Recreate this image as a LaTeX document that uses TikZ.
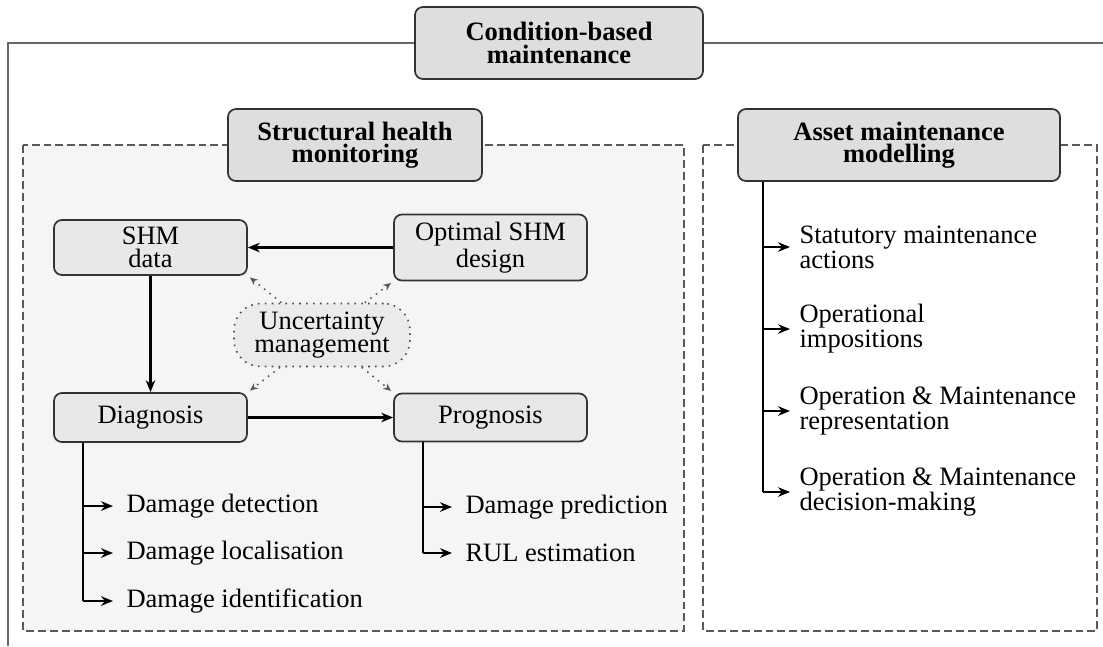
\documentclass[tikz,border=0pt]{standalone}
\usepackage{fontspec}
\setmainfont{Liberation Serif}
\usetikzlibrary{arrows.meta,calc}
\def\u{0.3774pt}
\begin{document}
\begin{tikzpicture}[x=0.3774pt,y=-0.3774pt,
  box/.style={draw=black!80, rounded corners=3pt, line width=0.65pt, align=center, inner sep=0pt},
  titlebox/.style={box, fill=black!13, font=\bfseries\fontsize{10}{8.4}\selectfont, minimum height=72*\u},
  innerbox/.style={box, fill=black!9, font=\fontsize{10}{8.8}\selectfont, minimum width=193*\u},
  uncbox/.style={draw=black!70, dotted, line width=0.6pt, rounded corners=10pt, fill=black!8, align=center, inner sep=0pt, font=\fontsize{10}{9}\selectfont},
  panel/.style={draw=black!65, dash pattern=on 3pt off 1.5pt, line width=0.5pt},
  frameline/.style={draw=black!60, line width=0.6pt},
  arr/.style={-{Stealth[length=4.5pt,width=3.6pt]}, line width=0.85pt},
  darr/.style={-{Stealth[length=3pt,width=2.6pt]}, dotted, draw=black!65, line width=0.6pt, shorten >=1pt},
  trunk/.style={line width=0.85pt},
  itemL/.style={anchor=west, inner xsep=13*\u, inner ysep=0pt, align=left, font=\fontsize{10}{9.4}\selectfont},
  itemR/.style={anchor=west, inner xsep=9*\u, inner ysep=0pt, align=left, font=\fontsize{10}{9.4}\selectfont},
]
\useasboundingbox (0,0) rectangle (1103,646);
% outer frame
\draw[frameline] (1103,43) -- (8,43) -- (8,646);
\node[titlebox, minimum width=288*\u] (cbm) at (559,43) {Condition-based\\maintenance};
% panels
\draw[panel, fill=black!4] (23,145) rectangle (684,631);
\draw[panel] (703,145) rectangle (1097,631);
\node[titlebox, minimum width=254*\u] (shm) at (355,145) {Structural health\\monitoring};
\node[titlebox, minimum width=322*\u] (amm) at (899,145) {Asset maintenance\\modelling};
% SHM nodes
\node[innerbox, minimum height=55*\u] (data) at (150.5,247.5) {SHM\\data};
\node[innerbox, minimum height=66*\u] (opt) at (490.5,247.5) {Optimal SHM\\design};
\node[innerbox, minimum height=49*\u] (diag) at (150.5,417.5) {Diagnosis};
\node[innerbox, minimum height=48*\u] (prog) at (490.5,417.5) {Prognosis};
\node[uncbox, minimum width=176*\u, minimum height=63*\u] (unc) at (322,335) {Uncertainty\\management};
\draw[arr] (opt) -- (data);
\draw[arr] (data) -- (diag);
\draw[arr] (diag) -- (prog);
\draw[darr] (unc) -- (data.south east);
\draw[darr] (unc) -- (opt.south west);
\draw[darr] (unc) -- (diag.north east);
\draw[darr] (unc) -- (prog.north west);
% Diagnosis branches
\coordinate (dt) at (83,0);
\node[itemL] (d1) at (113,506) {Damage detection};
\node[itemL] (d2) at (113,553) {Damage localisation};
\node[itemL] (d3) at (113,601) {Damage identification};
\draw[trunk] (dt |- diag.south) -- (dt |- d3.west);
\draw[arr] (dt |- d1.west) -- (d1.west);
\draw[arr] (dt |- d2.west) -- (d2.west);
\draw[arr] (dt |- d3.west) -- (d3.west);
% Prognosis branches
\coordinate (pt) at (423,0);
\node[itemL] (p1) at (452,507) {Damage prediction};
\node[itemL] (p2) at (452,553) {RUL estimation};
\draw[trunk] (pt |- prog.south) -- (pt |- p2.west);
\draw[arr] (pt |- p1.west) -- (p1.west);
\draw[arr] (pt |- p2.west) -- (p2.west);
% Asset maintenance branches
\coordinate (rt) at (763,0);
\node[itemR] (a1) at (790,247) {Statutory maintenance\\actions};
\node[itemR] (a2) at (790,329) {Operational\\impositions};
\node[itemR] (a3) at (790,411) {Operation \& Maintenance\\representation};
\node[itemR] (a4) at (790,492) {Operation \& Maintenance\\decision-making};
\draw[trunk] (rt |- amm.south) -- (rt |- a4.west);
\draw[arr] (rt |- a1.west) -- (a1.west);
\draw[arr] (rt |- a2.west) -- (a2.west);
\draw[arr] (rt |- a3.west) -- (a3.west);
\draw[arr] (rt |- a4.west) -- (a4.west);
\end{tikzpicture}
\end{document}
